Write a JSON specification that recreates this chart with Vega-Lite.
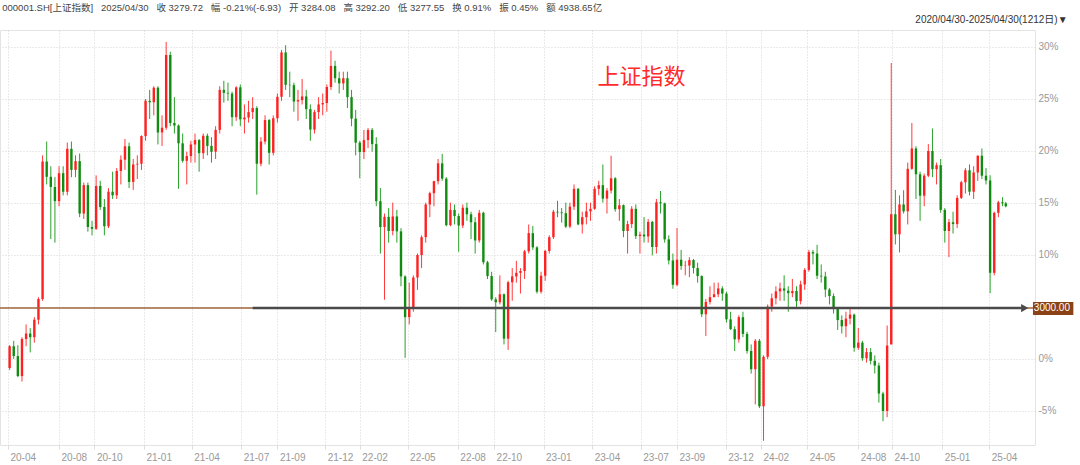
{
"$schema":"https://vega.github.io/schema/vega-lite/v6.json",
"width":1035,"height":415,
"autosize":{"type":"none"},
"padding":{"left":0,"top":30,"right":45,"bottom":20},
"background":"white",
"title":{"text":"000001.SH[上证指数]\u00a0\u00a0\u00a02025/04/30\u00a0\u00a0\u00a0收 3279.72\u00a0\u00a0\u00a0幅 -0.21%(-6.93)\u00a0\u00a0\u00a0开 3284.08\u00a0\u00a0\u00a0高 3292.20\u00a0\u00a0\u00a0低 3277.55\u00a0\u00a0\u00a0换 0.91%\u00a0\u00a0\u00a0振 0.45%\u00a0\u00a0\u00a0额 4938.65亿","anchor":"start","fontSize":9.5,"fontWeight":"normal","font":"Liberation Sans, Noto Sans CJK SC","color":"#444","offset":3,"dx":3},
"config":{"view":{"stroke":"#e3e3e3"},"font":"Liberation Sans, Noto Sans CJK SC"},
"data":{"values":[
{"d":2,"o":2835,"h":2898,"l":2830,"c":2895},
{"d":7,"o":2895,"h":2910,"l":2860,"c":2868},
{"d":12,"o":2868,"h":2898,"l":2810,"c":2813},
{"d":17,"o":2813,"h":2920,"l":2798,"c":2915},
{"d":22,"o":2915,"h":2955,"l":2895,"c":2930},
{"d":27,"o":2930,"h":2945,"l":2878,"c":2920},
{"d":32,"o":2920,"h":2975,"l":2905,"c":2968},
{"d":37,"o":2968,"h":3030,"l":2955,"c":3025},
{"d":42,"o":3025,"h":3420,"l":3020,"c":3403},
{"d":47,"o":3403,"h":3458,"l":3340,"c":3361},
{"d":52,"o":3361,"h":3390,"l":3190,"c":3333},
{"d":57,"o":3333,"h":3360,"l":3180,"c":3294},
{"d":62,"o":3294,"h":3390,"l":3280,"c":3371},
{"d":67,"o":3371,"h":3390,"l":3310,"c":3320},
{"d":72,"o":3320,"h":3455,"l":3310,"c":3438},
{"d":77,"o":3438,"h":3458,"l":3360,"c":3380},
{"d":82,"o":3380,"h":3420,"l":3360,"c":3404},
{"d":87,"o":3404,"h":3425,"l":3250,"c":3260},
{"d":92,"o":3260,"h":3345,"l":3245,"c":3338},
{"d":97,"o":3338,"h":3345,"l":3210,"c":3223},
{"d":102,"o":3223,"h":3240,"l":3200,"c":3218},
{"d":107,"o":3218,"h":3365,"l":3215,"c":3336},
{"d":112,"o":3336,"h":3350,"l":3270,"c":3278},
{"d":117,"o":3278,"h":3300,"l":3200,"c":3225},
{"d":122,"o":3225,"h":3330,"l":3220,"c":3320},
{"d":127,"o":3320,"h":3375,"l":3300,"c":3310},
{"d":132,"o":3310,"h":3385,"l":3300,"c":3377},
{"d":137,"o":3377,"h":3420,"l":3340,"c":3408},
{"d":142,"o":3408,"h":3465,"l":3380,"c":3445},
{"d":147,"o":3445,"h":3455,"l":3330,"c":3347},
{"d":152,"o":3347,"h":3410,"l":3325,"c":3395},
{"d":157,"o":3395,"h":3420,"l":3355,"c":3397},
{"d":162,"o":3397,"h":3475,"l":3380,"c":3473},
{"d":167,"o":3473,"h":3575,"l":3460,"c":3570},
{"d":172,"o":3570,"h":3600,"l":3520,"c":3566},
{"d":177,"o":3566,"h":3610,"l":3530,"c":3606},
{"d":182,"o":3606,"h":3610,"l":3450,"c":3483},
{"d":187,"o":3483,"h":3530,"l":3446,"c":3496},
{"d":192,"o":3496,"h":3732,"l":3490,"c":3696},
{"d":197,"o":3696,"h":3705,"l":3500,"c":3509},
{"d":202,"o":3509,"h":3580,"l":3480,"c":3502},
{"d":207,"o":3502,"h":3505,"l":3328,"c":3453},
{"d":212,"o":3453,"h":3480,"l":3400,"c":3405},
{"d":217,"o":3405,"h":3430,"l":3340,"c":3418},
{"d":222,"o":3418,"h":3460,"l":3400,"c":3450},
{"d":227,"o":3450,"h":3480,"l":3400,"c":3462},
{"d":232,"o":3462,"h":3465,"l":3375,"c":3426},
{"d":237,"o":3426,"h":3480,"l":3410,"c":3474},
{"d":242,"o":3474,"h":3480,"l":3420,"c":3446},
{"d":247,"o":3446,"h":3470,"l":3400,"c":3430},
{"d":252,"o":3430,"h":3500,"l":3410,"c":3490},
{"d":257,"o":3490,"h":3610,"l":3480,"c":3600},
{"d":262,"o":3600,"h":3625,"l":3565,"c":3592},
{"d":267,"o":3592,"h":3620,"l":3570,"c":3590},
{"d":272,"o":3590,"h":3595,"l":3500,"c":3525},
{"d":277,"o":3525,"h":3610,"l":3515,"c":3607},
{"d":282,"o":3607,"h":3615,"l":3500,"c":3519},
{"d":287,"o":3519,"h":3560,"l":3480,"c":3524},
{"d":292,"o":3524,"h":3570,"l":3510,"c":3539},
{"d":297,"o":3539,"h":3580,"l":3520,"c":3550},
{"d":302,"o":3550,"h":3555,"l":3312,"c":3397},
{"d":307,"o":3397,"h":3470,"l":3390,"c":3458},
{"d":312,"o":3458,"h":3530,"l":3450,"c":3517},
{"d":317,"o":3517,"h":3520,"l":3395,"c":3427},
{"d":322,"o":3427,"h":3530,"l":3420,"c":3522},
{"d":327,"o":3522,"h":3590,"l":3510,"c":3581},
{"d":332,"o":3581,"h":3710,"l":3570,"c":3703},
{"d":337,"o":3703,"h":3723,"l":3600,"c":3614},
{"d":342,"o":3614,"h":3650,"l":3580,"c":3613},
{"d":347,"o":3613,"h":3620,"l":3540,"c":3568},
{"d":352,"o":3568,"h":3600,"l":3515,"c":3572},
{"d":357,"o":3572,"h":3630,"l":3560,"c":3582},
{"d":362,"o":3582,"h":3600,"l":3520,"c":3547},
{"d":367,"o":3547,"h":3560,"l":3460,"c":3491},
{"d":372,"o":3491,"h":3545,"l":3480,"c":3539},
{"d":377,"o":3539,"h":3580,"l":3520,"c":3560},
{"d":382,"o":3560,"h":3590,"l":3530,"c":3564},
{"d":387,"o":3564,"h":3615,"l":3540,"c":3608},
{"d":392,"o":3608,"h":3708,"l":3600,"c":3666},
{"d":397,"o":3666,"h":3680,"l":3620,"c":3632},
{"d":402,"o":3632,"h":3650,"l":3590,"c":3618},
{"d":407,"o":3618,"h":3650,"l":3600,"c":3632},
{"d":412,"o":3632,"h":3650,"l":3550,"c":3580},
{"d":417,"o":3580,"h":3600,"l":3500,"c":3521},
{"d":422,"o":3521,"h":3545,"l":3420,"c":3455},
{"d":427,"o":3455,"h":3460,"l":3357,"c":3429},
{"d":432,"o":3429,"h":3490,"l":3410,"c":3462},
{"d":437,"o":3462,"h":3495,"l":3440,"c":3490},
{"d":442,"o":3490,"h":3495,"l":3430,"c":3451},
{"d":447,"o":3451,"h":3470,"l":3280,"c":3294},
{"d":452,"o":3294,"h":3330,"l":3150,"c":3223},
{"d":457,"o":3223,"h":3260,"l":3023,"c":3251},
{"d":462,"o":3251,"h":3275,"l":3180,"c":3212},
{"d":467,"o":3212,"h":3290,"l":3200,"c":3252},
{"d":472,"o":3252,"h":3270,"l":3180,"c":3211},
{"d":477,"o":3211,"h":3220,"l":3060,"c":3087},
{"d":482,"o":3087,"h":3090,"l":2863,"c":2975},
{"d":487,"o":2975,"h":3070,"l":2955,"c":3001},
{"d":492,"o":3001,"h":3090,"l":2990,"c":3084},
{"d":497,"o":3084,"h":3150,"l":3050,"c":3146},
{"d":502,"o":3146,"h":3200,"l":3110,"c":3195},
{"d":507,"o":3195,"h":3290,"l":3180,"c":3285},
{"d":512,"o":3285,"h":3320,"l":3250,"c":3316},
{"d":517,"o":3316,"h":3350,"l":3280,"c":3349},
{"d":522,"o":3349,"h":3410,"l":3340,"c":3398},
{"d":527,"o":3398,"h":3424,"l":3350,"c":3356},
{"d":532,"o":3356,"h":3360,"l":3225,"c":3228},
{"d":537,"o":3228,"h":3290,"l":3225,"c":3270},
{"d":542,"o":3270,"h":3285,"l":3230,"c":3253},
{"d":547,"o":3253,"h":3260,"l":3155,"c":3227},
{"d":552,"o":3227,"h":3285,"l":3220,"c":3276},
{"d":557,"o":3276,"h":3290,"l":3240,"c":3258},
{"d":562,"o":3258,"h":3265,"l":3190,"c":3236},
{"d":567,"o":3236,"h":3250,"l":3150,"c":3186},
{"d":572,"o":3186,"h":3270,"l":3180,"c":3262},
{"d":577,"o":3262,"h":3265,"l":3120,"c":3126},
{"d":582,"o":3126,"h":3130,"l":3080,"c":3088},
{"d":587,"o":3088,"h":3100,"l":3020,"c":3024},
{"d":592,"o":3024,"h":3030,"l":2934,"c":3016},
{"d":597,"o":3016,"h":3090,"l":3010,"c":3038},
{"d":602,"o":3038,"h":3040,"l":2900,"c":2916},
{"d":607,"o":2916,"h":3075,"l":2885,"c":3071},
{"d":612,"o":3071,"h":3110,"l":3020,"c":3087},
{"d":617,"o":3087,"h":3130,"l":3070,"c":3097},
{"d":622,"o":3097,"h":3110,"l":3040,"c":3102},
{"d":627,"o":3102,"h":3160,"l":3080,"c":3156},
{"d":632,"o":3156,"h":3230,"l":3150,"c":3206},
{"d":637,"o":3206,"h":3226,"l":3160,"c":3167},
{"d":642,"o":3167,"h":3170,"l":3040,"c":3045},
{"d":647,"o":3045,"h":3100,"l":3040,"c":3089},
{"d":652,"o":3089,"h":3160,"l":3075,"c":3157},
{"d":657,"o":3157,"h":3200,"l":3150,"c":3195},
{"d":662,"o":3195,"h":3270,"l":3190,"c":3265},
{"d":667,"o":3265,"h":3295,"l":3250,"c":3263},
{"d":672,"o":3263,"h":3275,"l":3235,"c":3261},
{"d":677,"o":3261,"h":3290,"l":3220,"c":3224},
{"d":682,"o":3224,"h":3290,"l":3220,"c":3279},
{"d":687,"o":3279,"h":3340,"l":3270,"c":3328},
{"d":692,"o":3328,"h":3330,"l":3228,"c":3230},
{"d":697,"o":3230,"h":3265,"l":3205,"c":3250},
{"d":702,"o":3250,"h":3290,"l":3230,"c":3266},
{"d":707,"o":3266,"h":3290,"l":3240,"c":3273},
{"d":712,"o":3273,"h":3335,"l":3270,"c":3328},
{"d":717,"o":3328,"h":3350,"l":3310,"c":3338},
{"d":722,"o":3338,"h":3395,"l":3290,"c":3301},
{"d":727,"o":3301,"h":3330,"l":3260,"c":3323},
{"d":732,"o":3323,"h":3419,"l":3315,"c":3357},
{"d":737,"o":3357,"h":3360,"l":3265,"c":3272},
{"d":742,"o":3272,"h":3300,"l":3240,"c":3283},
{"d":747,"o":3283,"h":3285,"l":3195,"c":3212},
{"d":752,"o":3212,"h":3240,"l":3150,"c":3231},
{"d":757,"o":3231,"h":3280,"l":3220,"c":3273},
{"d":762,"o":3273,"h":3285,"l":3190,"c":3198},
{"d":767,"o":3198,"h":3210,"l":3150,"c":3202},
{"d":772,"o":3202,"h":3250,"l":3180,"c":3197},
{"d":777,"o":3197,"h":3245,"l":3180,"c":3237},
{"d":782,"o":3237,"h":3240,"l":3145,"c":3168},
{"d":787,"o":3168,"h":3300,"l":3150,"c":3291},
{"d":792,"o":3291,"h":3322,"l":3260,"c":3288},
{"d":797,"o":3288,"h":3290,"l":3180,"c":3189},
{"d":802,"o":3189,"h":3200,"l":3120,"c":3131},
{"d":807,"o":3131,"h":3150,"l":3053,"c":3064},
{"d":812,"o":3064,"h":3220,"l":3060,"c":3133},
{"d":817,"o":3133,"h":3160,"l":3105,"c":3116},
{"d":822,"o":3116,"h":3130,"l":3090,"c":3117},
{"d":827,"o":3117,"h":3140,"l":3085,"c":3132},
{"d":832,"o":3132,"h":3135,"l":3095,"c":3110},
{"d":837,"o":3110,"h":3125,"l":3070,"c":3088},
{"d":842,"o":3088,"h":3090,"l":2975,"c":2983},
{"d":847,"o":2983,"h":3025,"l":2923,"c":3017},
{"d":852,"o":3017,"h":3060,"l":3010,"c":3030},
{"d":857,"o":3030,"h":3070,"l":3030,"c":3038},
{"d":862,"o":3038,"h":3070,"l":3030,"c":3054},
{"d":867,"o":3054,"h":3060,"l":3020,"c":3040},
{"d":872,"o":3040,"h":3045,"l":2960,"c":2969},
{"d":877,"o":2969,"h":2990,"l":2940,"c":2942},
{"d":882,"o":2942,"h":2950,"l":2882,"c":2914},
{"d":887,"o":2914,"h":2980,"l":2905,"c":2975},
{"d":892,"o":2975,"h":2990,"l":2920,"c":2929},
{"d":897,"o":2929,"h":2935,"l":2875,"c":2882},
{"d":902,"o":2882,"h":2900,"l":2820,"c":2832},
{"d":907,"o":2832,"h":2915,"l":2735,"c":2910},
{"d":912,"o":2910,"h":2915,"l":2725,"c":2730},
{"d":917,"o":2730,"h":2870,"l":2635,"c":2866},
{"d":922,"o":2866,"h":3010,"l":2860,"c":3004},
{"d":927,"o":3004,"h":3040,"l":2990,"c":3027},
{"d":932,"o":3027,"h":3060,"l":3010,"c":3046},
{"d":937,"o":3046,"h":3070,"l":3020,"c":3054},
{"d":942,"o":3054,"h":3090,"l":3020,"c":3048},
{"d":947,"o":3048,"h":3060,"l":2990,"c":3041},
{"d":952,"o":3041,"h":3080,"l":3030,"c":3047},
{"d":957,"o":3047,"h":3060,"l":3000,"c":3019},
{"d":962,"o":3019,"h":3075,"l":3010,"c":3065},
{"d":967,"o":3065,"h":3110,"l":3050,"c":3105},
{"d":972,"o":3105,"h":3160,"l":3100,"c":3154},
{"d":977,"o":3154,"h":3160,"l":3120,"c":3150},
{"d":982,"o":3150,"h":3174,"l":3080,"c":3089},
{"d":987,"o":3089,"h":3120,"l":3070,"c":3087},
{"d":992,"o":3087,"h":3100,"l":3030,"c":3051},
{"d":997,"o":3051,"h":3055,"l":3010,"c":3033},
{"d":1002,"o":3033,"h":3040,"l":2985,"c":2998},
{"d":1007,"o":2998,"h":3000,"l":2940,"c":2967},
{"d":1012,"o":2967,"h":2980,"l":2930,"c":2950},
{"d":1017,"o":2950,"h":2990,"l":2920,"c":2971},
{"d":1022,"o":2971,"h":3000,"l":2955,"c":2982},
{"d":1027,"o":2982,"h":2985,"l":2880,"c":2891},
{"d":1032,"o":2891,"h":2945,"l":2885,"c":2905},
{"d":1037,"o":2905,"h":2910,"l":2855,"c":2862},
{"d":1042,"o":2862,"h":2890,"l":2850,"c":2879},
{"d":1047,"o":2879,"h":2890,"l":2845,"c":2855},
{"d":1052,"o":2855,"h":2870,"l":2820,"c":2842},
{"d":1057,"o":2842,"h":2850,"l":2740,"c":2765},
{"d":1062,"o":2765,"h":2770,"l":2689,"c":2717},
{"d":1067,"o":2717,"h":2952,"l":2700,"c":2897},
{"d":1072,"o":2900,"h":3674,"l":2900,"c":3258},
{"d":1077,"o":3258,"h":3325,"l":3175,"c":3203},
{"d":1082,"o":3203,"h":3310,"l":3153,"c":3285},
{"d":1087,"o":3285,"h":3324,"l":3260,"c":3266},
{"d":1092,"o":3266,"h":3400,"l":3230,"c":3383},
{"d":1097,"o":3383,"h":3509,"l":3380,"c":3439},
{"d":1102,"o":3439,"h":3445,"l":3300,"c":3368},
{"d":1107,"o":3368,"h":3375,"l":3240,"c":3309},
{"d":1112,"o":3309,"h":3370,"l":3280,"c":3364},
{"d":1117,"o":3364,"h":3451,"l":3360,"c":3432},
{"d":1122,"o":3432,"h":3494,"l":3360,"c":3382},
{"d":1127,"o":3382,"h":3400,"l":3340,"c":3393},
{"d":1132,"o":3393,"h":3410,"l":3262,"c":3270},
{"d":1137,"o":3270,"h":3275,"l":3180,"c":3212},
{"d":1142,"o":3212,"h":3245,"l":3140,"c":3236},
{"d":1147,"o":3236,"h":3265,"l":3205,"c":3231},
{"d":1152,"o":3231,"h":3310,"l":3220,"c":3303},
{"d":1157,"o":3303,"h":3350,"l":3300,"c":3346},
{"d":1162,"o":3346,"h":3385,"l":3315,"c":3379},
{"d":1167,"o":3379,"h":3395,"l":3310,"c":3320},
{"d":1172,"o":3320,"h":3390,"l":3300,"c":3373},
{"d":1177,"o":3373,"h":3420,"l":3350,"c":3419},
{"d":1182,"o":3419,"h":3439,"l":3355,"c":3364},
{"d":1187,"o":3364,"h":3385,"l":3340,"c":3351},
{"d":1192,"o":3351,"h":3365,"l":3041,"c":3097},
{"d":1197,"o":3097,"h":3265,"l":3090,"c":3262},
{"d":1202,"o":3262,"h":3295,"l":3250,"c":3291},
{"d":1207,"o":3291,"h":3305,"l":3280,"c":3288},
{"d":1211,"o":3288,"h":3292,"l":3277,"c":3280}
]},
"layer":[
{"mark":{"type":"rule","strokeWidth":1},
 "encoding":{
  "x":{"field":"d","type":"quantitative","scale":{"domain":[-3.6,1240.4],"nice":false,"zero":false},
   "axis":{"values":[0,62,105,165,223,283,327,385,427,485,546,590,650,709,768,812,871,914,970,1032,1073,1134,1191],
    "labelExpr":"['20-04','20-08','20-10','21-01','21-04','21-07','21-09','21-12','22-02','22-05','22-08','22-10','23-01','23-04','23-07','23-09','23-12','24-02','24-05','24-08','24-10','25-01','25-04'][indexof([0,62,105,165,223,283,327,385,427,485,546,590,650,709,768,812,871,914,970,1032,1073,1134,1191],datum.value)]",
    "labelAlign":"left","labelOffset":2,"labelColor":"#999","labelFontSize":10,"labelPadding":3,"labelFlush":false,"labelOverlap":false,
    "grid":true,"gridColor":"#d4d4d4","gridDash":[1,2],"tickColor":"#ddd","tickSize":4,"domain":false,"title":null}},
  "y":{"field":"l","type":"quantitative","scale":{"domain":[2623.5,3764.7],"nice":false,"zero":false},
   "axis":{"orient":"right","values":[2717.08,2860.08,3003.08,3146.09,3289.09,3432.1,3575.1,3718.1],
    "labelExpr":"(datum.value > 2990 && datum.value < 3010) ? '' : round((datum.value/2860.08-1)*100) + '%'",
    "labelColor":"#999","labelFontSize":10,"labelPadding":3,"ticks":false,"domain":false,
    "grid":true,"gridColor":"#d4d4d4","gridDash":[1,2],"title":null}},
  "y2":{"field":"h"},
  "color":{"condition":{"test":"datum.c >= datum.o","value":"#ff3a3a"},"value":"#2aa02a"}
 }},
{"mark":{"type":"bar","width":2.4},
 "encoding":{
  "x":{"field":"d","type":"quantitative"},
  "y":{"field":"o","type":"quantitative"},
  "y2":{"field":"c"},
  "color":{"condition":{"test":"datum.c >= datum.o","value":"#ff2020"},"value":"#108c10"}
 }},
{"data":{"values":[{}]},
 "mark":{"type":"rule","color":"#a0643c","strokeWidth":1.5},
 "encoding":{"y":{"datum":3000,"type":"quantitative"}}},
{"data":{"values":[{}]},
 "mark":{"type":"rule","color":"#4a4a4a","strokeWidth":2.5},
 "encoding":{"x":{"datum":297,"type":"quantitative"},"x2":{"datum":1230},"y":{"datum":3000,"type":"quantitative"}}},
{"data":{"values":[{}]},
 "mark":{"type":"point","shape":"triangle-right","filled":true,"color":"#4a4a4a","size":70,"opacity":1},
 "encoding":{"x":{"datum":1234,"type":"quantitative"},"y":{"datum":3000,"type":"quantitative"}}},
{"data":{"values":[{}]},
 "mark":{"type":"rect","color":"#8a4216"},
 "encoding":{"x":{"datum":1244,"type":"quantitative"},"x2":{"datum":1293},"y":{"datum":3016.7,"type":"quantitative"},"y2":{"datum":2980.9}}},
{"data":{"values":[{}]},
 "mark":{"type":"text","text":"3000.00","color":"white","fontSize":10,"align":"center","baseline":"middle"},
 "encoding":{"x":{"datum":1267,"type":"quantitative"},"y":{"datum":2999,"type":"quantitative"}}},
{"data":{"values":[{}]},
 "mark":{"type":"text","text":"上证指数","color":"#ff2a2a","fontSize":22,"font":"Noto Sans CJK SC","align":"center","baseline":"middle"},
 "encoding":{"x":{"datum":769,"type":"quantitative"},"y":{"datum":3636,"type":"quantitative"}}},
{"data":{"values":[{}]},
 "mark":{"type":"text","text":"2020/04/30-2025/04/30(1212日)▼","color":"#333","fontSize":10,"align":"right","baseline":"middle"},
 "encoding":{"x":{"datum":1286,"type":"quantitative"},"y":{"datum":3792,"type":"quantitative"}}}
]
}
